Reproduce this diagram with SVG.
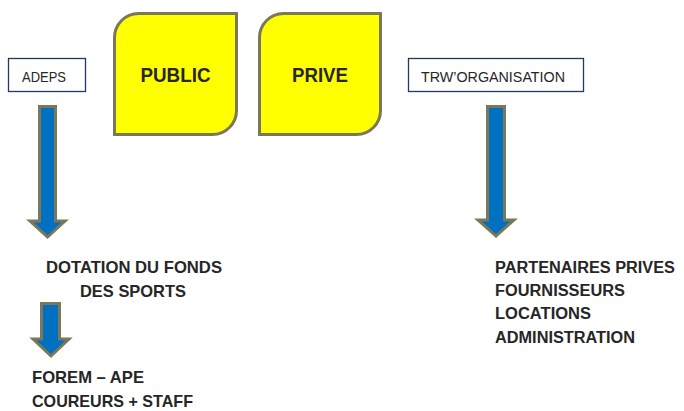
<svg xmlns="http://www.w3.org/2000/svg" width="684" height="411" viewBox="0 0 684 411">
<style>
.lbl{font-family:"Liberation Sans",Arial,sans-serif;fill:#262626}
.box{fill:#ffffff;stroke:#1f3864;stroke-width:1.3}
.big{fill:#ffff00;stroke:#7a7858;stroke-width:3}
.arr{fill:#0070c0;stroke:#7a7858;stroke-width:3;stroke-linejoin:miter}
.b{font-weight:bold}
.p{font-size:16.8px}
</style>
<rect width="684" height="411" fill="#ffffff"/>
<g id="adeps">
<rect class="box" x="8.5" y="58.5" width="77" height="33"/>
<text class="lbl" x="22" y="82" font-size="14" textLength="44" lengthAdjust="spacingAndGlyphs">ADEPS</text>
</g>
<g id="public">
<path class="big" d="M114.5,38 A24,24 0 0 1 138.5,13.5 L236.5,13.5 L236.5,110.5 A24,24 0 0 1 212.5,134.5 L114.5,134.5 Z"/>
<text class="lbl b" x="175.5" y="82" font-size="20" text-anchor="middle" textLength="70" lengthAdjust="spacingAndGlyphs">PUBLIC</text>
</g>
<g id="prive">
<path class="big" d="M259.5,38 A24,24 0 0 1 283.5,13.5 L380.5,13.5 L380.5,110.5 A24,24 0 0 1 356.5,134.5 L259.5,134.5 Z"/>
<text class="lbl b" x="320" y="82" font-size="20" text-anchor="middle" textLength="56" lengthAdjust="spacingAndGlyphs">PRIVE</text>
</g>
<g id="trw">
<rect class="box" x="408.5" y="58.5" width="175" height="33"/>
<text class="lbl" x="421" y="82" font-size="15" textLength="144" lengthAdjust="spacingAndGlyphs">TRW’ORGANISATION</text>
</g>
<g id="dotation">
<text class="lbl b" x="46" y="273" font-size="17" textLength="176" lengthAdjust="spacingAndGlyphs">DOTATION DU FONDS</text>
<text class="lbl b" x="80" y="297" font-size="17" textLength="106" lengthAdjust="spacingAndGlyphs">DES SPORTS</text>
</g>
<g id="forem">
<text class="lbl b" x="32" y="383" font-size="17" textLength="112" lengthAdjust="spacingAndGlyphs">FOREM – APE</text>
<text class="lbl b" x="32" y="407" font-size="17" textLength="161" lengthAdjust="spacingAndGlyphs">COUREURS + STAFF</text>
</g>
<g id="prives">
<text class="lbl b p" x="495" y="273" textLength="180" lengthAdjust="spacingAndGlyphs">PARTENAIRES PRIVES</text>
<text class="lbl b p" x="495" y="296" textLength="130" lengthAdjust="spacingAndGlyphs">FOURNISSEURS</text>
<text class="lbl b p" x="495" y="319" textLength="96" lengthAdjust="spacingAndGlyphs">LOCATIONS</text>
<text class="lbl b p" x="495" y="343" textLength="140" lengthAdjust="spacingAndGlyphs">ADMINISTRATION</text>
</g>
<g id="connectors">
<polygon class="arr" points="39.5,106.5 55.5,106.5 55.5,221 65,221 47.5,237 30,221 39.5,221"/>
<polygon class="arr" points="487.5,106.5 504.5,106.5 504.5,220 514,220 496,236 478,220 487.5,220"/>
<polygon class="arr" points="41.5,303.5 59.5,303.5 59.5,339 69,339 51,356 33,339 41.5,339"/>
</g>
</svg>
